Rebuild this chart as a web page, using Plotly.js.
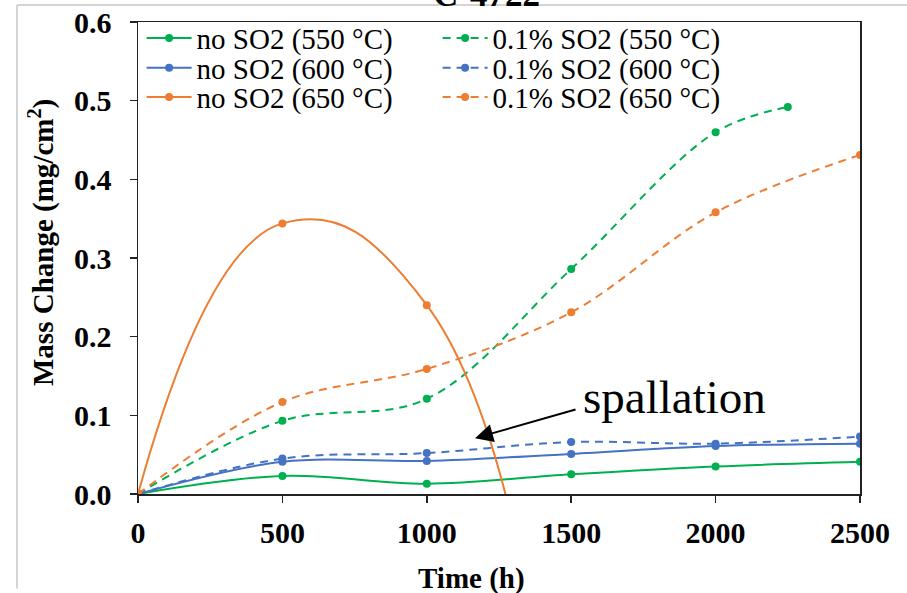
<!DOCTYPE html>
<html>
<head>
<meta charset="utf-8">
<script src="https://cdn.plot.ly/plotly-3.0.1.min.js"></script>
<style>
  html, body { margin: 0; padding: 0; background: #fff; }
  #chart { width: 907px; height: 593px; }
</style>
</head>
<body>
<div id="chart"></div>
<script>
// Exposure time (h)
const timeFull = [0, 500, 1000, 1500, 2000, 2500];
const time550SO2 = [0, 500, 1000, 1500, 2000, 2250];
const time650Dry = [0, 500, 1000, 1500];

// Mass change (mg/cm2)
const dry550 = [0, 0.023, 0.013, 0.025, 0.035, 0.041];
const so2550 = [0, 0.093, 0.121, 0.286, 0.460, 0.492];
const dry600 = [0, 0.041, 0.042, 0.051, 0.061, 0.064];
const so2600 = [0, 0.045, 0.052, 0.066, 0.064, 0.073];
const dry650 = [0, 0.344, 0.240, -0.55];
const so2650 = [0, 0.117, 0.159, 0.231, 0.358, 0.431];

const xTicks = [0, 500, 1000, 1500, 2000, 2500];

const names = {
  dry550: 'no SO2 (550 °C)', so2550: '0.1% SO2 (550 °C)',
  dry600: 'no SO2 (600 °C)', so2600: '0.1% SO2 (600 °C)',
  dry650: 'no SO2 (650 °C)', so2650: '0.1% SO2 (650 °C)'
};

const GREEN = '#00b050', BLUE = '#4472c4', ORANGE = '#ed7d31';
const serif = 'Liberation Serif';

function series(x, y, name, color, dashed, legendId, smoothing) {
  return {
    x: x, y: y, name: name, type: 'scatter', mode: 'lines+markers',
    legend: legendId,
    line: { color: color, width: 2, shape: 'spline', smoothing: smoothing || 1, dash: dashed ? '8px,6px' : 'solid' },
    marker: { color: color, size: 8, symbol: 'circle' },
    cliponaxis: true
  };
}

const data = [
  series(timeFull, dry550, names.dry550, GREEN, false, 'legend'),
  series(time550SO2, so2550, names.so2550, GREEN, true, 'legend'),
  series(timeFull, dry600, names.dry600, BLUE, false, 'legend2'),
  series(timeFull, so2600, names.so2600, BLUE, true, 'legend2'),
  series(time650Dry, dry650, names.dry650, ORANGE, false, 'legend3', 1.3),
  series(timeFull, so2650, names.so2650, ORANGE, true, 'legend3')
];

// one legend per row, two entries each
function legendRow(yPaper) {
  return {
    orientation: 'h', x: 0.005, y: yPaper, xanchor: 'left', yanchor: 'middle',
    bgcolor: 'rgba(0,0,0,0)', font: { family: serif, size: 29, color: '#000' },
    entrywidth: 236, entrywidthmode: 'pixels', itemwidth: 45, tracegroupgap: 0
  };
}

const axisFont = { family: serif, size: 30, color: '#000', weight: 'bold' };

const layout = {
  width: 907, height: 593,
  margin: { l: 138, r: 47, t: 22, b: 99, autoexpand: false },
  paper_bgcolor: '#fff', plot_bgcolor: '#fff',
  font: { family: serif, color: '#000' },
  showlegend: true,
  legend: legendRow(0.966),
  legend2: legendRow(0.9025),
  legend3: legendRow(0.841),
  xaxis: {
    range: [0, 2500], tickvals: xTicks,
    showgrid: false, zeroline: false,
    showline: true, linecolor: '#222', linewidth: 1.5, mirror: true,
    ticks: 'outside', ticklen: 7, tickcolor: '#222', tickwidth: 1.5,
    ticklabelstandoff: 4,
    tickfont: axisFont
  },
  yaxis: {
    range: [0, 0.6], dtick: 0.1, tickformat: '.1f',
    showgrid: false, zeroline: false,
    showline: true, linecolor: '#222', linewidth: 1.5, mirror: true,
    ticks: 'outside', ticklen: 7, tickcolor: '#222', tickwidth: 1.5,
    ticklabelstandoff: 12,
    tickfont: axisFont
  },
  shapes: [
    { type: 'line', xref: 'paper', yref: 'paper', x0: -0.1676, x1: 1.08, y0: 1.036, y1: 1.036,
      line: { color: '#d4d4d4', width: 2 } },
    { type: 'line', xref: 'paper', yref: 'paper', x0: -0.1676, x1: -0.1676, y0: 1.036, y1: -0.2,
      line: { color: '#d4d4d4', width: 2 } }
  ],
  annotations: [
    { xref: 'paper', yref: 'paper', x: 0.483, y: 1.012, xanchor: 'center', yanchor: 'bottom',
      text: '<b>C-4722</b>', showarrow: false, font: { family: serif, size: 35, color: '#000' } },
    { xref: 'paper', yref: 'paper', x: (471 - 138) / 722, y: (494 - 578) / 472, xanchor: 'center', yanchor: 'middle',
      text: '<b>Time (h)</b>', showarrow: false, font: { family: serif, size: 29, color: '#000' } },
    { xref: 'paper', yref: 'paper', x: (41 - 138) / 722, y: (494 - 243) / 472, xanchor: 'center', yanchor: 'middle',
      textangle: -90, text: '<b>Mass Change (mg/cm<sup>2</sup>)</b>', showarrow: false,
      font: { family: serif, size: 29, color: '#000' } },
    { x: 1856, y: 0.123, xref: 'x', yref: 'y', text: 'spallation', showarrow: false,
      font: { family: serif, size: 47, color: '#000' } },
    { x: 1167, y: 0.071, xref: 'x', yref: 'y', ax: 102, ay: -29, axref: 'pixel', ayref: 'pixel',
      text: '', showarrow: true, arrowhead: 2, arrowsize: 1.8, arrowwidth: 2, arrowcolor: '#000' }
  ]
};

Plotly.newPlot('chart', data, layout, { displayModeBar: false, staticPlot: true });
</script>
</body>
</html>
